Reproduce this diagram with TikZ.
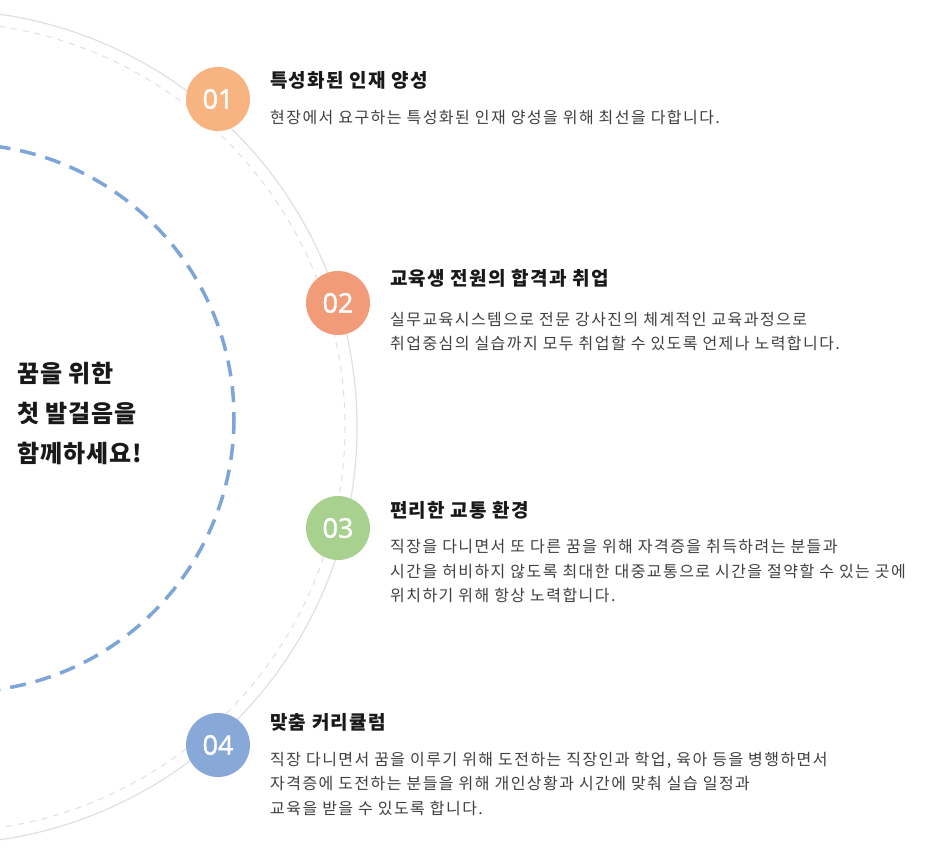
\documentclass[tikz,border=0pt]{standalone}
\usepackage{fontspec}
\setmainfont{Noto Sans CJK KR}
\newfontfamily\numf[FakeBold=1.5]{Open Sans}
\newfontfamily\bodyf[LetterSpace=9]{Noto Sans CJK KR}
\newfontfamily\ttlf[LetterSpace=7]{Noto Sans CJK KR}
\newfontfamily\bigf[LetterSpace=4]{Noto Sans CJK KR}
\begin{document}
\begin{tikzpicture}[x=1pt,y=-1pt,
  badge/.style={circle,minimum size=64pt,inner sep=0pt,text=white,font=\numf\fontsize{27}{27}\selectfont},
  ttl/.style={anchor=base west,inner sep=0pt,font=\ttlf\bfseries\fontsize{19}{19}\selectfont,text=black!90},
  bdy/.style={anchor=base west,inner sep=0pt,font=\bodyf\fontsize{16}{16}\selectfont,text=black!75},
  big/.style={anchor=base west,inner sep=0pt,font=\bigf\bfseries\fontsize{24}{24}\selectfont,text=black!90}]
\useasboundingbox[fill=white] (0,0) rectangle (940,854);
\begin{scope}
\clip (0,0) rectangle (940,854);
\draw[black!12,line width=1.2pt] (-60,427) circle[radius=417];
\draw[black!12,line width=1pt,dash pattern=on 6pt off 6pt] (-60,427) circle[radius=405];
\draw[color={rgb,255:red,125;green,165;blue,215},line width=3.5pt,dash pattern=on 16pt off 10pt] (-40,418) circle[radius=274];
\end{scope}
\node[badge,fill={rgb,255:red,247;green,179;blue,128}] (b1) at (218,99) {01};
\node[badge,fill={rgb,255:red,242;green,155;blue,120}] (b2) at (338,303) {02};
\node[badge,fill={rgb,255:red,168;green,209;blue,143}] (b3) at (338,528) {03};
\node[badge,fill={rgb,255:red,136;green,169;blue,216}] (b4) at (218,745) {04};
\node[ttl] (t1) at (270,87) {특성화된 인재 양성};
\node[bdy] (d1) at (270,123) {현장에서 요구하는 특성화된 인재 양성을 위해 최선을 다합니다.};
\node[ttl] (t2) at (390,285) {교육생 전원의 합격과 취업};
\node[bdy] (d2a) at (390,325) {실무교육시스템으로 전문 강사진의 체계적인 교육과정으로};
\node[bdy] (d2b) at (390,349) {취업중심의 실습까지 모두 취업할 수 있도록 언제나 노력합니다.};
\node[ttl] (t3) at (390,517) {편리한 교통 환경};
\node[bdy] (d3a) at (390,552) {직장을 다니면서 또 다른 꿈을 위해 자격증을 취득하려는 분들과};
\node[bdy] (d3b) at (390,577) {시간을 허비하지 않도록 최대한 대중교통으로 시간을 절약할 수 있는 곳에};
\node[bdy] (d3c) at (390,601) {위치하기 위해 항상 노력합니다.};
\node[ttl] (t4) at (270,729) {맞춤 커리큘럼};
\node[bdy] (d4a) at (270,765) {직장 다니면서 꿈을 이루기 위해 도전하는 직장인과 학업, 육아 등을 병행하면서};
\node[bdy] (d4b) at (270,789) {자격증에 도전하는 분들을 위해 개인상황과 시간에 맞춰 실습 일정과};
\node[bdy] (d4c) at (270,814) {교육을 받을 수 있도록 합니다.};
\node[big] (m1) at (17,382) {꿈을 위한};
\node[big] (m2) at (17,422) {첫 발걸음을};
\node[big] (m3) at (17,462) {함께하세요\textit{!}};
\end{tikzpicture}
\end{document}
